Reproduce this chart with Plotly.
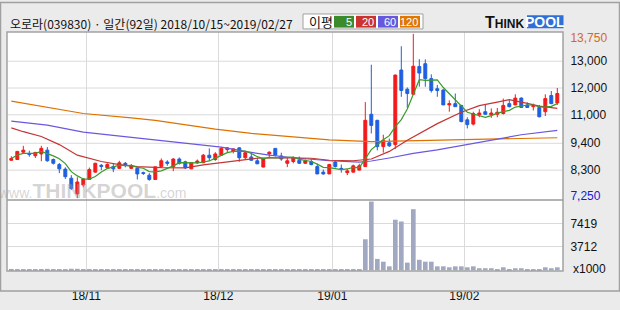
import pandas as pd
import plotly.graph_objects as go

# ---------------- data ----------------
title_text = "오로라(039830) · 일간(92일) 2018/10/15~2019/02/27"
holidays = ["2018-12-25", "2018-12-31", "2019-01-01", "2019-02-04", "2019-02-05", "2019-02-06"]
dates = [d for d in pd.bdate_range("2018-10-15", "2019-02-27") if d.strftime("%Y-%m-%d") not in holidays]

open_ = [8750, 8780, 9070, 9020, 8930, 9000, 9150, 8780, 8580, 8400,
         8040, 7420, 7770, 7990, 8280, 8550, 8450, 8500, 8430, 8630,
         8430, 8430, 8260, 8160, 7990, 8500, 8680, 8500, 8800, 8690,
         8410, 8650, 8650, 8950, 8780, 8950, 9170, 9100, 9240, 8850,
         8880, 8730, 8480, 9000, 9220, 8920, 8630, 8700, 8750, 8630,
         8700, 8500, 8280, 8210, 8680, 8430, 8260, 8280, 8360, 8500,
         10570, 10330, 9290, 9440, 9370, 12320, 11560, 11360, 12460, 12570,
         11980, 11580, 11530, 10940, 10990, 10920, 10350, 10180, 10550, 10670,
         10550, 10570, 10600, 10990, 10940, 11210, 10940, 10870, 10840, 10670,
         11310, 11020]
high = [8910, 9120, 9320, 9130, 9080, 9320, 9270, 8820, 8640, 8470,
        8160, 8080, 8030, 8460, 8650, 8600, 8630, 8610, 8730, 8680,
        8600, 8480, 8300, 8240, 8500, 8820, 8750, 8830, 8860, 8730,
        8670, 8780, 9000, 9220, 9070, 9270, 9270, 9220, 9260, 9100,
        9050, 8850, 8840, 9100, 9230, 9050, 8850, 8900, 8900, 8780,
        8800, 8610, 8380, 8610, 8750, 8580, 8410, 8580, 8610, 11050,
        12530, 10350, 9760, 9610, 12140, 13260, 11630, 13750, 12750, 12740,
        12150, 11730, 11560, 11120, 11390, 10940, 10450, 10670, 10770, 10970,
        10800, 10820, 11190, 11160, 11360, 11240, 11040, 10990, 10940, 11360,
        11490, 11610]
low = [8730, 8770, 9040, 8890, 8840, 8710, 8690, 8580, 8240, 8010,
       7580, 7250, 7680, 7970, 8260, 8360, 8430, 8280, 8400, 8470,
       8400, 7990, 8170, 7940, 7970, 8460, 8530, 8320, 8580, 8400,
       8400, 8610, 8640, 8730, 8730, 8940, 9050, 9020, 8690, 8800,
       8730, 8600, 8470, 8880, 8900, 8730, 8480, 8630, 8610, 8610,
       8550, 8200, 8180, 8200, 8460, 8260, 8160, 8270, 8350, 8490,
       9810, 9140, 9050, 9280, 9200, 11260, 10820, 11350, 11660, 11660,
       11430, 11260, 10930, 10670, 10860, 10250, 10010, 10130, 10450, 10540,
       10430, 10450, 10560, 10840, 10930, 10820, 10830, 10720, 10450, 10500,
       10970, 10940]
close = [8820, 9100, 9150, 8980, 9060, 9220, 8730, 8630, 8410, 8100,
         7630, 7890, 8010, 8380, 8630, 8510, 8580, 8410, 8650, 8550,
         8530, 8210, 8230, 7990, 8490, 8730, 8630, 8800, 8630, 8450,
         8650, 8720, 8950, 8850, 9000, 9220, 9240, 9200, 8850, 9050,
         8750, 8610, 8830, 9070, 8950, 8800, 8730, 8830, 8630, 8730,
         8580, 8210, 8210, 8580, 8500, 8410, 8330, 8530, 8530, 10330,
         10130, 9290, 9540, 9320, 12120, 11510, 11390, 12470, 12200, 11980,
         11510, 11510, 10940, 10990, 10870, 10280, 10160, 10600, 10620, 10570,
         10620, 10650, 10920, 10870, 11210, 10840, 10840, 10920, 10470, 11190,
         10990, 11390]
volume = [230, 210, 190, 180, 200, 220, 240, 200, 190, 210,
          260, 250, 200, 190, 180, 170, 160, 170, 180, 160,
          150, 190, 160, 170, 200, 190, 170, 180, 170, 160,
          170, 160, 190, 180, 170, 200, 180, 160, 190, 170,
          160, 150, 170, 180, 190, 170, 160, 150, 160, 150,
          170, 180, 160, 190, 200, 190, 190, 190, 190, 4940,
          10930, 1820, 1380, 640, 8050, 7760, 1230, 9720, 1680, 1380,
          1380, 640, 640, 490, 640, 640, 490, 640, 340, 340,
          340, 190, 490, 190, 340, 340, 190, 190, 190, 490,
          340, 490]

# moving averages (trading-day index, price)
ma20_idx = [0, 2, 5, 8, 11, 13, 15, 18, 21, 25, 29, 32, 35, 38, 41, 46, 50, 53, 57, 60,
            63, 66, 68, 71, 75, 78, 81, 83, 86, 88, 91]
ma20_val = [10030, 9880, 9690, 9370, 8950, 8820, 8700, 8580, 8500, 8460, 8450, 8570, 8660, 8730,
            8830, 8850, 8830, 8750, 8730, 8800, 9100, 9540, 9800, 10200, 10650, 10910, 11050,
            11150, 11000, 10890, 10800]
ma60_idx = [0, 6, 12, 20, 30, 35, 39, 43, 47, 53, 58, 60, 63, 67, 71, 75, 81, 85, 91]
ma60_val = [10300, 10140, 9860, 9650, 9390, 9270, 9100, 8950, 8850, 8730, 8680, 8720, 8840,
            9020, 9160, 9330, 9590, 9760, 9930]
ma120_idx = [0, 6, 12, 20, 24, 30, 34, 40, 45, 53, 60, 68, 75, 81, 91]
ma120_val = [11090, 10830, 10600, 10430, 10330, 10120, 9980, 9810, 9710, 9560, 9490, 9530,
             9560, 9590, 9640]

month_labels = ["18/11", "18/12", "19/01", "19/02"]
price_tick_vals = [13602, 12668, 11608, 10548, 9422, 8358, 7361]
price_tick_text = ["<span style='color:#d2691e'>13,750</span>", "13,000", "12,000", "11,000",
                   "9,400", "8,300", "<span style='color:#1a1ad2'>7,250</span>"]
vol_tick_vals = [3712, 7419]
vol_tick_text = ["3712", "7419"]
ma_labels = ["5", "20", "60", "120"]

# ---------------- styles ----------------
RED = "#f21b1b"
BLUE = "#1f5fe0"
C5, C20, C60, C120 = "#3a9a2a", "#c43434", "#6a58e0", "#de7200"
GRID = "#dadada"
FONT = "Liberation Sans"
KFONT = "Noto Sans CJK KR"

W, H = 620, 310
L, R, T, B = 7, 563, 32, 288
PW, PH = R - L, B - T
SPLIT = (B - 212) / PH


def px(x):
    return (x - L) / PW


def py(y):
    return (B - y) / PH


xi = list(range(len(dates)))
ma5_val = pd.Series(close).rolling(5, min_periods=1).mean().tolist()

month_pos = []
for lab in month_labels:
    yy, mm = lab.split("/")
    first = next(i for i, d in enumerate(dates) if d.year == 2000 + int(yy) and d.month == int(mm))
    month_pos.append(first - 0.5)

fig = go.Figure()
fig.add_trace(go.Bar(x=xi, y=volume, width=0.78, marker=dict(color="#a1a9c2", line=dict(width=0)),
                     xaxis="x", yaxis="y2", hoverinfo="skip"))
fig.add_trace(go.Candlestick(x=xi, open=open_, high=high, low=low, close=close,
                             increasing=dict(line=dict(color=RED, width=1), fillcolor=RED),
                             decreasing=dict(line=dict(color=BLUE, width=1), fillcolor=BLUE),
                             whiskerwidth=0, xaxis="x", yaxis="y"))
for idx, vals, col in [(ma120_idx, ma120_val, C120), (ma60_idx, ma60_val, C60),
                       (ma20_idx, ma20_val, C20), (xi, ma5_val, C5)]:
    fig.add_trace(go.Scatter(x=idx, y=vals, mode="lines", line=dict(color=col, width=1.2),
                             xaxis="x", yaxis="y", hoverinfo="skip"))

shapes = []
for v in price_tick_vals[1:-1]:
    shapes.append(dict(type="line", xref="paper", yref="y", x0=0, x1=1, y0=v, y1=v,
                       line=dict(color=GRID, width=1), layer="below"))
shapes.append(dict(type="rect", xref="paper", yref="paper", x0=0, x1=1, y0=0, y1=1,
                   line=dict(color="#a3a3a3", width=1.5)))
shapes.append(dict(type="line", xref="paper", yref="paper", x0=0, x1=1, y0=SPLIT, y1=SPLIT,
                   line=dict(color="#9a9a9a", width=1.5)))
shapes.append(dict(type="rect", xref="paper", yref="paper", x0=px(0.5), x1=px(619.5),
                   y0=py(309.5), y1=py(0.5), line=dict(color="#a0a0a0", width=1.5)))
# legend box
shapes.append(dict(type="rect", xref="paper", yref="paper", x0=px(303), x1=px(423),
                   y0=py(28.7), y1=py(12.7), fillcolor="white", line=dict(color="#a0a0a0", width=1)))
box_x = [(334, 354), (356, 376), (378, 398), (400, 420)]
for (x0, x1), col in zip(box_x, ["#3b8b2b", "#c9342f", "#6658dd", "#e07800"]):
    shapes.append(dict(type="rect", xref="paper", yref="paper", x0=px(x0), x1=px(x1),
                       y0=py(27.3), y1=py(14.7), fillcolor=col, line=dict(width=0)))
# logo box
shapes.append(dict(type="rect", xref="paper", yref="paper", x0=px(527), x1=px(563.5),
                   y0=py(28), y1=py(14), fillcolor="#2f6fd8", line=dict(width=0)))

ann = []
ann.append(dict(text=title_text, x=px(8), y=py(22.5), xref="paper", yref="paper",
                xanchor="left", yanchor="middle", showarrow=False,
                font=dict(family=KFONT, size=12, color="#111111")))
ann.append(dict(text="이평", x=px(321), y=py(21), xref="paper", yref="paper",
                xanchor="center", yanchor="middle", showarrow=False,
                font=dict(family=KFONT, size=13, color="#111111")))
for (x0, x1), lab in zip(box_x, ma_labels):
    ann.append(dict(text=lab, x=px(x1 - 0.5), y=py(21), xref="paper", yref="paper",
                    xanchor="right", yanchor="middle", showarrow=False,
                    font=dict(family=FONT, size=11, color="white")))
ann.append(dict(text="<b>T<span style='font-size:12px'>HINK</span></b>", x=px(526), y=py(21.5),
                xref="paper", yref="paper", xanchor="right", yanchor="middle", showarrow=False,
                font=dict(family=FONT, size=16, color="#111111")))
ann.append(dict(text="<b>POOL</b>", x=px(545), y=py(21.5), xref="paper", yref="paper",
                xanchor="center", yanchor="middle", showarrow=False,
                font=dict(family=FONT, size=14, color="white")))
ann.append(dict(text="www.<b><span style='font-size:21px'>THINKPOOL</span></b>.com", x=px(92), y=py(202),
                xref="paper", yref="paper", xanchor="center", yanchor="middle", showarrow=False,
                font=dict(family=FONT, size=14, color="rgba(160,160,160,0.45)")))
ann.append(dict(text="x1000", x=px(571), y=py(286), xref="paper", yref="paper",
                xanchor="left", yanchor="middle", showarrow=False,
                font=dict(family=FONT, size=12, color="#111111")))

tick_common = dict(ticks="outside", tickcolor="rgba(0,0,0,0)",
                   tickfont=dict(family=FONT, size=12, color="#111111"),
                   zeroline=False, showline=False, fixedrange=True)

fig.update_layout(
    width=W, height=H, margin=dict(l=L, r=W - R, t=T, b=H - B),
    paper_bgcolor="#ebebeb", plot_bgcolor="#ffffff", showlegend=False,
    boxgap=0.3, bargap=0.2,
    xaxis=dict(domain=[0, 1], anchor="y2", range=[-0.72, 91.95], tickvals=month_pos,
               ticktext=month_labels, showgrid=True, gridcolor=GRID, gridwidth=1, ticklen=14,
               rangeslider=dict(visible=False), **tick_common),
    yaxis=dict(domain=[SPLIT, 1], anchor="x", side="right", range=[7176, 13824], ticklen=4,
               tickvals=price_tick_vals, ticktext=price_tick_text, showgrid=False, **tick_common),
    yaxis2=dict(domain=[0, SPLIT], anchor="x", side="right", range=[-100, 11170], ticklen=4,
                tickvals=vol_tick_vals, ticktext=vol_tick_text, showgrid=True, gridcolor=GRID,
                **tick_common),
    shapes=shapes, annotations=ann,
)

fig.write_html("out.html")
